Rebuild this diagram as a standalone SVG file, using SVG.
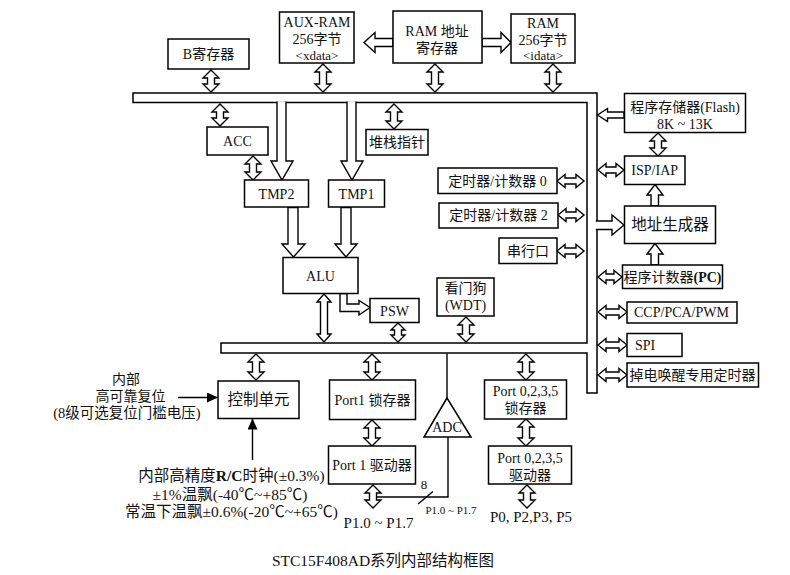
<svg xmlns="http://www.w3.org/2000/svg" width="790" height="575" viewBox="0 0 790 575">
<style>
.b{fill:#fff;stroke:#000;stroke-width:1.5}
.a{fill:#fff;stroke:#000;stroke-width:1.4;stroke-linejoin:miter}
.l{fill:none;stroke:#000;stroke-width:1.4}
text{font-family:"Liberation Serif","Noto Sans CJK SC",serif;font-size:14px;fill:#111;text-anchor:middle}
.s{font-size:13px}
.t{font-size:11px}
.m{font-size:15.5px}
</style>
<defs>
<marker id="ah" markerUnits="userSpaceOnUse" markerWidth="11" markerHeight="10" refX="11" refY="5" orient="auto"><path d="M0,0 L11,5 L0,10 z" fill="#000"/></marker>
</defs>
<rect width="790" height="575" fill="#fff"/>
<g id="bus"><path class="b" d="M133,93 H597 V393 H587 V353 H221 V343 H587 V102.5 H133 Z"/></g>
<g id="connectors">
<polygon class="a" points="211,70 219,78 214.5,78 214.5,84 219,84 211,92 203,84 207.5,84 207.5,78 203,78"/>
<polygon class="a" points="323,64 331,72 326.5,72 326.5,84 331,84 323,92 315,84 319.5,84 319.5,72 315,72"/>
<polygon class="a" points="435,64 443,72 438.5,72 438.5,84 443,84 435,92 427,84 431.5,84 431.5,72 427,72"/>
<polygon class="a" points="553,64 561,72 556.5,72 556.5,84 561,84 553,92 545,84 549.5,84 549.5,72 545,72"/>
<polygon class="a" points="220,104 228,112 223.5,112 223.5,118 228,118 220,126 212,118 216.5,118 216.5,112 212,112"/>
<polygon class="a" points="394,104 402,112 397.5,112 397.5,121 402,121 394,129 386,121 390.5,121 390.5,112 386,112"/>
<polygon class="a" points="253,156 261,164 256.5,164 256.5,172 261,172 253,180 245,172 249.5,172 249.5,164 245,164"/>
<polygon class="a" points="324,294 331,302 327.5,302 327.5,334 331,334 324,342 317,334 320.5,334 320.5,302 317,302"/>
<polygon class="a" points="398,323 405,330 401.5,330 401.5,335 405,335 398,342 391,335 394.5,335 394.5,330 391,330"/>
<polygon class="a" points="466,317 474,325 469.5,325 469.5,334 474,334 466,342 458,334 462.5,334 462.5,325 458,325"/>
<polygon class="a" points="256,354 264,362 259.5,362 259.5,372 264,372 256,380 248,372 252.5,372 252.5,362 248,362"/>
<polygon class="a" points="372,354 380,362 375.5,362 375.5,372 380,372 372,380 364,372 368.5,372 368.5,362 364,362"/>
<polygon class="a" points="372,420 380,428 375.5,428 375.5,438 380,438 372,446 364,438 368.5,438 368.5,428 364,428"/>
<polygon class="a" points="373,485 381,493 376.5,493 376.5,500 381,500 373,508 365,500 369.5,500 369.5,493 365,493"/>
<polygon class="a" points="526,354 534,362 529.5,362 529.5,372 534,372 526,380 518,372 522.5,372 522.5,362 518,362"/>
<polygon class="a" points="526,419 534,427 529.5,427 529.5,438 534,438 526,446 518,438 522.5,438 522.5,427 518,427"/>
<polygon class="a" points="527,485 535,493 530.5,493 530.5,500 535,500 527,508 519,500 523.5,500 523.5,493 519,493"/>
<polygon class="a" points="658,133 666,141 661.5,141 661.5,148 666,148 658,156 650,148 654.5,148 654.5,141 650,141"/>
<polygon class="a" points="557,181 565,174.5 565,178 576,178 576,174.5 584,181 576,187.5 576,184 565,184 565,187.5"/>
<polygon class="a" points="558,215 566,208.5 566,212 576,212 576,208.5 584,215 576,221.5 576,218 566,218 566,221.5"/>
<polygon class="a" points="557,251 565,244.5 565,248 576,248 576,244.5 584,251 576,257.5 576,254 565,254 565,257.5"/>
<polygon class="a" points="598,170 606,163.5 606,167 616,167 616,163.5 624,170 616,176.5 616,173 606,173 606,176.5"/>
<polygon class="a" points="598,277 606,270.5 606,274 614,274 614,270.5 622,277 614,283.5 614,280 606,280 606,283.5"/>
<polygon class="a" points="598,312 606,305.5 606,309 619,309 619,305.5 627,312 619,318.5 619,315 606,315 606,318.5"/>
<polygon class="a" points="598,345 606,338.5 606,342 619,342 619,338.5 627,345 619,351.5 619,348 606,348 606,351.5"/>
<polygon class="a" points="598,375 606,368.5 606,372 619,372 619,368.5 627,375 619,381.5 619,378 606,378 606,381.5"/>
<polygon class="a" points="393,38.5 375,38.5 375,32.5 364,42.5 375,52.5 375,46.5 393,46.5"/>
<polygon class="a" points="482,38.5 501,38.5 501,32.5 511,42.5 501,52.5 501,46.5 482,46.5"/>
<path class="a" d="M277,101.5 V161 H271 L282,180 L293,161 H286 V101.5"/>
<path class="a" d="M347,101.5 V161 H341 L352,180 L363,161 H356 V101.5"/>
<polygon class="a" points="288,207.5 288,244 282,244 293.5,257 305,244 298,244 298,207.5"/>
<polygon class="a" points="341,207.5 341,244 335,244 346,257 357,244 351,244 351,207.5"/>
<polygon class="a" points="340,293.5 340,311.5 359,311.5 359,315 370,307.5 359,300.5 359,304 347,304 347,293.5"/>
<polygon class="a" points="624,112 607.5,112 607.5,108.5 597.5,115 607.5,121.5 607.5,118 624,118"/>
<path class="a" d="M595.8,221 H612 V215 L624,225 L612,235 V229.5 H595.8"/>
<polygon class="a" points="651,265 651,254 647,254 655,243.5 663,254 658.5,254 658.5,265"/>
<polygon class="a" points="651,206 651,195 647,195 655,184.5 663,195 658.5,195 658.5,206"/>
<line class="l" x1="178" y1="397.5" x2="218" y2="397.5" marker-end="url(#ah)"/>
<line class="l" x1="252.5" y1="460" x2="252.5" y2="418.5" marker-end="url(#ah)"/>
<line class="l" x1="447" y1="353.5" x2="447" y2="398"/>
<polyline class="l" points="376.5,497 448,497 448,437"/>
<line class="l" x1="418" y1="504" x2="433" y2="491.5"/>
</g>
<g id="b-reg"><rect class="b" x="168" y="39" width="81" height="30"/><text x="208.5" y="59">B寄存器</text></g>
<g id="aux-ram"><rect class="b" x="279.5" y="12" width="74.5" height="51"/><text x="317" y="27">AUX-RAM</text><text x="317" y="44">256字节</text><text class="s" x="317" y="59.5">&lt;xdata&gt;</text></g>
<g id="ram-addr"><rect class="b" x="393" y="11" width="89" height="52"/><text x="437" y="36">RAM 地址</text><text x="437" y="53">寄存器</text></g>
<g id="ram"><rect class="b" x="511" y="14" width="64" height="49"/><text x="543" y="28">RAM</text><text x="543" y="44.5">256字节</text><text class="s" x="543" y="59.5">&lt;idata&gt;</text></g>
<g id="acc"><rect class="b" x="207" y="127" width="61" height="28"/><text x="237.5" y="146">ACC</text></g>
<g id="sp"><rect class="b" x="366" y="129.5" width="62" height="25.5"/><text x="397" y="147">堆栈指针</text></g>
<g id="tmp2"><rect class="b" x="244.5" y="180" width="64" height="27"/><text x="276.5" y="198.5">TMP2</text></g>
<g id="tmp1"><rect class="b" x="328.5" y="180" width="56" height="27"/><text x="356.5" y="198.5">TMP1</text></g>
<g id="alu"><rect class="b" x="283" y="257.5" width="75" height="36"/><text x="320.5" y="280.5">ALU</text></g>
<g id="psw"><rect class="b" x="370" y="298.5" width="49" height="24"/><text x="394.5" y="315.5">PSW</text></g>
<g id="wdt"><rect class="b" x="437" y="278" width="57" height="38"/><text x="465.5" y="293">看门狗</text><text x="465.5" y="310">(WDT)</text></g>
<g id="timer0"><rect class="b" x="438" y="168" width="119" height="25.5"/><text x="497.5" y="185.5">定时器/计数器 0</text></g>
<g id="timer2"><rect class="b" x="439" y="203" width="119" height="25"/><text x="498.5" y="220">定时器/计数器 2</text></g>
<g id="uart"><rect class="b" x="499" y="238" width="58" height="25.5"/><text x="528" y="256">串行口</text></g>
<g id="flash"><rect class="b" x="624.5" y="93.5" width="121" height="39"/><text x="685" y="112">程序存储器(Flash)</text><text x="685" y="129">8K ~ 13K</text></g>
<g id="isp"><rect class="b" x="624.5" y="156" width="60.5" height="28.5"/><text x="654.7" y="175">ISP/IAP</text></g>
<g id="addrgen"><rect class="b" x="624.5" y="206" width="91" height="37.5"/><text class="m" x="670" y="230">地址生成器</text></g>
<g id="pc"><rect class="b" x="622.5" y="265" width="100" height="23.5"/><text x="672.5" y="282">程序计数器<tspan font-weight="bold">(PC)</tspan></text></g>
<g id="ccp"><rect class="b" x="627" y="302" width="110" height="21"/><text x="681.5" y="317" style="font-size:14px">CCP/PCA/PWM</text></g>
<g id="spi"><rect class="b" x="627" y="333.5" width="55" height="23"/><text x="645" y="350">SPI</text></g>
<g id="wkt"><rect class="b" x="627" y="363" width="131.5" height="24"/><text x="692.5" y="380">掉电唤醒专用定时器</text></g>
<g id="ctrl"><rect class="b" x="218" y="381" width="81" height="37.5"/><text class="m" x="258.5" y="405">控制单元</text></g>
<g id="p1latch"><rect class="b" x="329.5" y="380" width="86" height="39.5"/><text x="372.5" y="405">Port1 锁存器</text></g>
<g id="p1drv"><rect class="b" x="328.5" y="446" width="87" height="38"/><text x="372" y="470">Port 1 驱动器</text></g>
<g id="adc"><polygon class="b" points="447,398 424,437 471,437"/><text x="447" y="432">ADC</text></g>
<g id="p0latch"><rect class="b" x="484.5" y="380" width="82" height="39"/><text x="525.5" y="396">Port 0,2,3,5</text><text x="525.5" y="413">锁存器</text></g>
<g id="p0drv"><rect class="b" x="488.5" y="446" width="83" height="38"/><text x="530" y="463">Port 0,2,3,5</text><text x="530" y="480">驱动器</text></g>
<g id="labels">
<text x="126" y="384">内部</text>
<text x="130.5" y="401">高可靠复位</text>
<text x="127" y="417.5" style="font-size:14.5px">(8级可选复位门槛电压)</text>
<text class="m" x="231.5" y="480.5">内部高精度<tspan font-weight="bold">R/C</tspan>时钟(±0.3%)</text>
<text class="m" x="230" y="499.5">±1%温飘(-40℃~+85℃)</text>
<text class="m" x="231.5" y="517">常温下温飘±0.6%(-20℃~+65℃)</text>
<text x="424" y="489" style="font-size:13px">8</text>
<text class="t" x="451" y="514">P1.0 ~ P1.7</text>
<text style="font-size:15px" x="378.5" y="528">P1.0 ~ P1.7</text>
<text style="font-size:15px" x="531" y="522">P0, P2,P3, P5</text>
<text style="font-size:15.5px" x="383" y="566">STC15F408AD系列内部结构框图</text>
</g>
</svg>
